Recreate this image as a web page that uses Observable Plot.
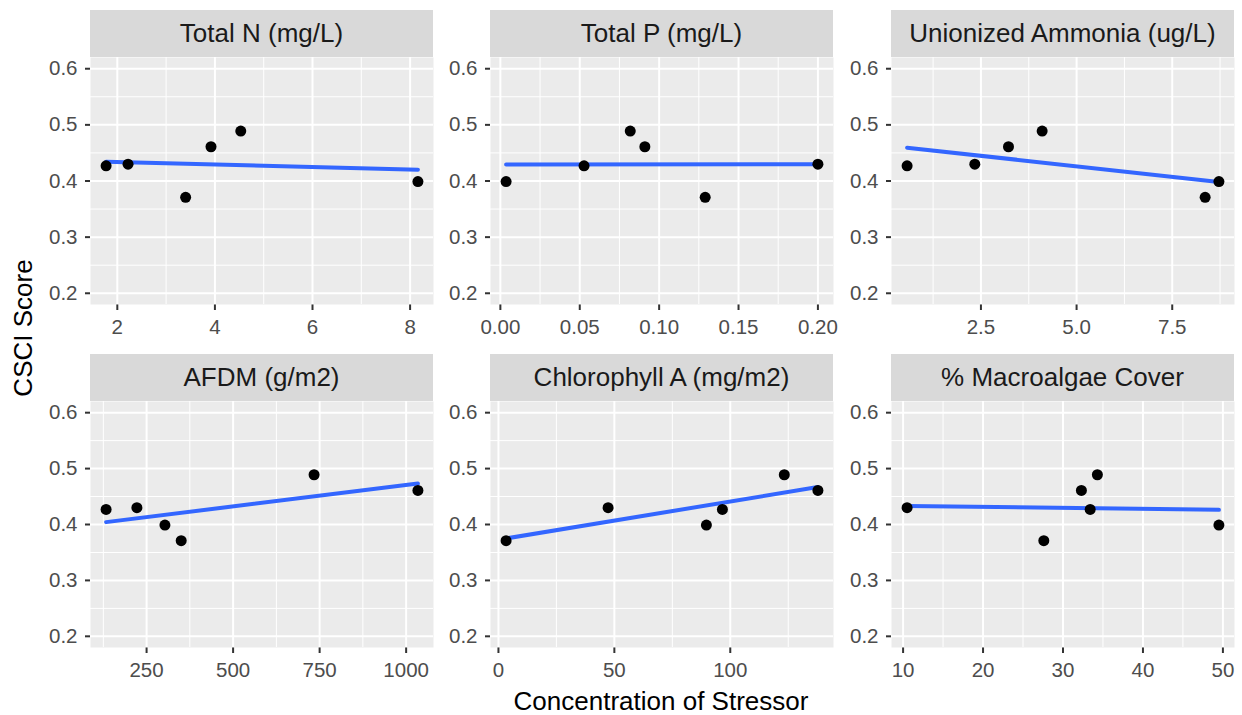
<!DOCTYPE html>
<html>
<head>
<meta charset="utf-8">
<script src="https://cdn.jsdelivr.net/npm/d3@7"></script>
<script src="https://cdn.jsdelivr.net/npm/@observablehq/plot@0.6"></script>
<style>
  html, body { margin: 0; padding: 0; background: #ffffff; }
  #chart { position: relative; width: 1242px; height: 715px; font-family: "Liberation Sans", Arial, sans-serif; overflow: hidden; }
  .strip { position: absolute; background: #d9d9d9; color: #1a1a1a; font-size: 26px; display: flex; align-items: center; justify-content: center; white-space: nowrap; }
  .panel { position: absolute; }
  .panel svg [aria-label^="x-axis"] path, .panel svg [aria-label^="y-axis"] path,
  .panel svg [aria-label^="x-axis"] line, .panel svg [aria-label^="y-axis"] line { stroke: #333333; stroke-width: 2; }
  .title { position: absolute; color: #000; font-size: 26px; text-align: center; height: 30px; line-height: 30px; white-space: nowrap; }
</style>
</head>
<body>
<div id="chart"></div>
<script>
// ---- data ----
const facetLabels = ["Total N (mg/L)", "Total P (mg/L)", "Unionized Ammonia (ug/L)",
                     "AFDM (g/m2)", "Chlorophyll A (mg/m2)", "% Macroalgae Cover"];
// one value per site (6 sites)
const csciScore = [0.427, 0.430, 0.371, 0.461, 0.489, 0.399];
const totalN    = [1.77, 2.22, 3.40, 3.92, 4.53, 8.16];
const totalP    = [0.0527, 0.200, 0.129, 0.091, 0.0818, 0.0036];
const ammonia   = [0.57, 2.34, 8.36, 3.22, 4.10, 8.72];
const afdm      = [133, 222, 350, 1034, 734, 303];
const chlA      = [96.6, 47.3, 3.3, 137.8, 123.3, 89.7];
const macroalgae = [33.4, 10.5, 27.6, 32.3, 34.3, 49.5];

// tick labels
const ticksN     = [2, 4, 6, 8];
const ticksP     = [0, 0.05, 0.10, 0.15, 0.20];
const ticksNH3   = [0, 2.5, 5.0, 7.5];
const ticksAFDM  = [250, 500, 750, 1000];
const ticksChl   = [0, 50, 100];
const ticksMacro = [10, 20, 30, 40, 50];
const yTicks     = [0.2, 0.3, 0.4, 0.5, 0.6];
const yLimits    = [0.2, 0.6];
const axisTitleX = "Concentration of Stressor";
const axisTitleY = "CSCI Score";

const panels = [
  {label: facetLabels[0], x: totalN,     ticks: ticksN,     fmt: d3.format("d")},
  {label: facetLabels[1], x: totalP,     ticks: ticksP,     fmt: d3.format(".2f")},
  {label: facetLabels[2], x: ammonia,    ticks: ticksNH3,   fmt: d3.format(".1f")},
  {label: facetLabels[3], x: afdm,       ticks: ticksAFDM,  fmt: d3.format("d")},
  {label: facetLabels[4], x: chlA,       ticks: ticksChl,   fmt: d3.format("d")},
  {label: facetLabels[5], x: macroalgae, ticks: ticksMacro, fmt: d3.format("d")}
];

// ---- layout ----
const chart = document.getElementById("chart");
const colLeft = [90, 490, 891];
const panelW = 343;
const rows = [{stripTop: 10, stripH: 47, plotH: 247}, {stripTop: 354, stripH: 47, plotH: 246}];
const mL = 60, mR = 8, mB = 45;

const yr = yLimits[1] - yLimits[0];
const yDomain = [yLimits[0] - 0.05 * yr, yLimits[1] + 0.05 * yr];
const yMinor = yTicks.slice(1).map((t, i) => (t + yTicks[i]) / 2);

panels.forEach((p, i) => {
  const row = rows[Math.floor(i / 3)];
  const left = colLeft[i % 3];
  const data = p.x.map((x, k) => ({x, y: csciScore[k]}));
  const [lo, hi] = d3.extent(p.x);
  const r = hi - lo;
  const xDomain = [lo - 0.05 * r, hi + 0.05 * r];
  const inside = v => v >= xDomain[0] && v <= xDomain[1];
  const step = p.ticks[1] - p.ticks[0];
  const minors = [p.ticks[0] - step, ...p.ticks].map(t => t + step / 2).filter(inside);
  const majors = p.ticks.filter(inside);

  const strip = document.createElement("div");
  strip.className = "strip";
  strip.style.left = left + "px";
  strip.style.top = row.stripTop + "px";
  strip.style.width = panelW + "px";
  strip.style.height = row.stripH + "px";
  strip.textContent = p.label;
  chart.appendChild(strip);

  const svg = Plot.plot({
    width: mL + panelW + mR,
    height: row.plotH + mB,
    marginLeft: mL, marginRight: mR, marginTop: 0, marginBottom: mB,
    style: {background: "transparent", fontFamily: "'Liberation Sans', Arial, sans-serif", fontSize: "20.5px", color: "#4d4d4d", overflow: "visible"},
    x: {domain: xDomain, ticks: majors, tickFormat: p.fmt, tickSize: 6, tickPadding: 9, label: null},
    y: {domain: yDomain, ticks: yTicks, tickFormat: ".1f", tickSize: 5, tickPadding: 8, label: null},
    marks: [
      Plot.frame({fill: "#ebebeb", stroke: null}),
      Plot.ruleX(minors, {stroke: "white", strokeWidth: 1}),
      Plot.ruleY(yMinor, {stroke: "white", strokeWidth: 1}),
      Plot.ruleX(majors, {stroke: "white", strokeWidth: 2}),
      Plot.ruleY(yTicks, {stroke: "white", strokeWidth: 2}),
      Plot.linearRegressionY(data, {x: "x", y: "y", stroke: "#3366FF", strokeWidth: 4, ci: 0}),
      Plot.dot(data, {x: "x", y: "y", r: 5.5, fill: "black", stroke: null})
    ]
  });
  const wrap = document.createElement("div");
  wrap.className = "panel";
  wrap.style.left = (left - mL) + "px";
  wrap.style.top = (row.stripTop + row.stripH) + "px";
  wrap.appendChild(svg);
  chart.appendChild(wrap);
});

// axis titles
const tx = document.createElement("div");
tx.className = "title";
tx.style.left = (661 - 200) + "px";
tx.style.width = "400px";
tx.style.top = "686px";
tx.textContent = axisTitleX;
chart.appendChild(tx);

const ty = document.createElement("div");
ty.className = "title";
ty.style.left = (23 - 150) + "px";
ty.style.width = "300px";
ty.style.top = (328 - 15) + "px";
ty.style.transform = "rotate(-90deg)";
ty.textContent = axisTitleY;
chart.appendChild(ty);
</script>
</body>
</html>
